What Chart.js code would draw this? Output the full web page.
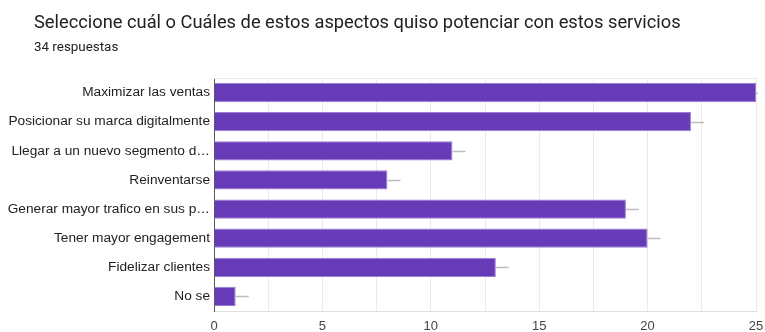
<!DOCTYPE html>
<html>
<head>
<meta charset="utf-8">
<script src="https://cdn.jsdelivr.net/npm/chart.js@4/dist/chart.umd.min.js"></script>
<style>
  html, body { margin: 0; padding: 0; background: #fff; }
  #wrap { width: 765px; height: 332px; }
</style>
</head>
<body>
<div id="wrap"><canvas id="c" width="765" height="332"></canvas></div>
<script>
const titleText = 'Seleccione cuál o Cuáles de estos aspectos quiso potenciar con estos servicios';
const subtitleText = '34 respuestas';
const categories = [
  'Maximizar las ventas',
  'Posicionar su marca digitalmente',
  'Llegar a un nuevo segmento d…',
  'Reinventarse',
  'Generar mayor trafico en sus p…',
  'Tener mayor engagement',
  'Fidelizar clientes',
  'No se'
];
const responses = [25, 22, 11, 8, 19, 20, 13, 1];
const axisMax = 25;
const labelledTicks = [0, 5, 10, 15, 20, 25];

// heading and response count above the plot
const headingPlugin = {
  id: 'heading',
  afterDraw(chart) {
    const ctx = chart.ctx;
    ctx.save();
    ctx.textAlign = 'left';
    ctx.textBaseline = 'alphabetic';
    ctx.fillStyle = '#202124';
    ctx.font = '18.3px Roboto';
    ctx.fillText(titleText, 34, 27.5);
    ctx.font = '13.4px Roboto';
    ctx.fillText(subtitleText, 34, 51);
    ctx.restore();
  }
};

// short grey tail after each bar end, plus the light frame on top
const tailPlugin = {
  id: 'tails',
  afterDatasetsDraw(chart) {
    const ctx = chart.ctx;
    const area = chart.chartArea;
    const meta = chart.getDatasetMeta(0);
    ctx.save();
    ctx.strokeStyle = '#ebebeb';
    ctx.lineWidth = 1;
    ctx.beginPath();
    ctx.moveTo(area.left, area.top + 0.5);
    ctx.lineTo(area.right, area.top + 0.5);
    ctx.stroke();
    ctx.beginPath();
    ctx.rect(0, area.top - 2, area.right + 2, area.bottom - area.top + 4);
    ctx.clip();
    ctx.strokeStyle = '#bdbdbd';
    ctx.lineWidth = 1.5;
    meta.data.forEach(bar => {
      ctx.beginPath();
      ctx.moveTo(bar.x, Math.round(bar.y) + 0.5);
      ctx.lineTo(bar.x + 13, Math.round(bar.y) + 0.5);
      ctx.stroke();
    });
    ctx.restore();
  }
};

new Chart(document.getElementById('c'), {
  type: 'bar',
  data: {
    labels: categories,
    datasets: [{
      data: responses,
      backgroundColor: '#673ab7',
      borderColor: '#9a7fd3',
      borderWidth: 1,
      barPercentage: 0.66,
      categoryPercentage: 1
    }]
  },
  options: {
    indexAxis: 'y',
    responsive: false,
    animation: false,
    layout: { padding: { left: 0, right: 9, top: 78, bottom: 0 } },
    plugins: {
      legend: { display: false },
      tooltip: { enabled: false },
      title: { display: false },
      subtitle: { display: false }
    },
    scales: {
      x: {
        min: 0,
        max: axisMax,
        afterBuildTicks(scale) {
          const t = [];
          for (let v = 0; v <= axisMax; v += 2.5) t.push({ value: v });
          scale.ticks = t;
        },
        afterFit(scale) {
          scale.height = 21;
          scale.paddingLeft = 0;
          scale.paddingRight = 0;
        },
        ticks: {
          autoSkip: false,
          maxRotation: 0,
          padding: 8,
          color: '#444',
          font: { family: 'Liberation Sans', size: 13 },
          callback: v => labelledTicks.includes(v) ? String(v) : ''
        },
        grid: { color: '#ebebeb', drawTicks: false },
        border: { color: '#e0e0e0' }
      },
      y: {
        afterFit(scale) {
          scale.width = 214;
          scale.paddingTop = 0;
          scale.paddingBottom = 0;
        },
        ticks: {
          padding: 4,
          color: '#222',
          font: { family: 'Liberation Sans', size: 13.7 }
        },
        grid: { display: false, drawTicks: false },
        border: { color: '#5a5a5a', width: 1 }
      }
    }
  },
  plugins: [tailPlugin, headingPlugin]
});
</script>
</body>
</html>
